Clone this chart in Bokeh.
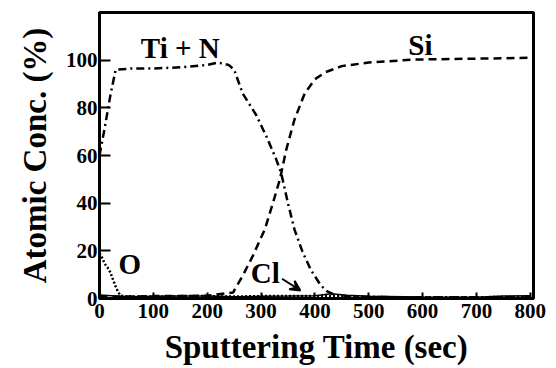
from bokeh.plotting import figure
from bokeh.models import Range1d, Label, Arrow, VeeHead, FixedTicker
from bokeh.embed import file_html
from bokeh.resources import INLINE

# ---- data ----
tin_x = [0, 10, 20, 30, 60, 100, 150, 200, 220, 240, 250, 266, 291, 310, 328, 337, 350, 362, 377, 393, 411, 423, 440, 470, 520, 600, 700, 800]
tin_y = [60, 72, 85, 96, 96.5, 96.5, 97, 98, 99, 98, 96, 86, 77, 68, 58.5, 53, 40, 29, 19.6, 11.8, 5.5, 3, 1.2, 0.8, 0.6, 0.5, 0.5, 0.5]

si_x = [0, 50, 100, 150, 200, 248, 267, 285, 307, 322, 335, 347, 362, 381, 400, 420, 450, 500, 580, 650, 720, 800]
si_y = [0.8, 0.8, 1.0, 1.0, 1.2, 2.5, 10, 18, 29, 40, 50, 62.6, 75, 86, 92, 95, 97.5, 99, 100.2, 100.5, 100.7, 101]

o_x = [0, 5, 10, 15, 20, 25, 30, 35, 40, 50, 100, 150, 200, 250, 300, 350, 400, 450, 500, 600, 700, 800]
o_y = [19, 17, 14.5, 13, 11, 8, 5, 2.5, 1.2, 0.8, 0.8, 1.0, 1.0, 0.8, 1.0, 1.0, 1.0, 0.9, 0.6, 0.5, 0.5, 0.8]

cl_x = [0, 30, 60, 100, 150, 200, 250, 300, 350, 400, 430, 460, 500, 600, 700, 750, 800]
cl_y = [1.5, 1.0, 0.7, 0.9, 1.1, 1.0, 0.7, 0.9, 1.0, 1.2, 2.0, 1.4, 0.9, 0.6, 0.5, 1.0, 1.2]

x_ticks = [0, 100, 200, 300, 400, 500, 600, 700, 800]
y_ticks = [0, 20, 40, 60, 80, 100]

FONT = "Liberation Serif"

p = figure(width=548, height=368, output_backend="svg", toolbar_location=None,
           x_range=Range1d(0, 806), y_range=Range1d(0, 120),
           min_border_left=99, min_border_top=12, min_border_right=15, min_border_bottom=70)
p.background_fill_color = "white"
p.border_fill_color = "white"
p.grid.visible = False
p.outline_line_color = "black"
p.outline_line_width = 3

# curves
p.line(tin_x, tin_y, line_color="black", line_width=2.5, line_dash="8 4 2 4")
p.line(si_x, si_y, line_color="black", line_width=2.5, line_dash="8 5")
p.line(o_x, o_y, line_color="black", line_width=2.5, line_dash="2 2")
p.line(cl_x, cl_y, line_color="black", line_width=1.5)

# axes
for ax in (p.xaxis[0], p.yaxis[0]):
    ax.axis_line_width = 3
    ax.axis_line_color = "black"
    ax.major_tick_line_color = "black"
    ax.major_tick_line_width = 2
    ax.minor_tick_line_color = None
    ax.major_tick_out = 0
    ax.major_label_text_font = FONT
    ax.major_label_text_font_style = "bold"
    ax.major_label_text_font_size = "21px"
    ax.major_label_text_color = "black"
    ax.axis_label_text_font = FONT
    ax.axis_label_text_font_style = "bold"
    ax.axis_label_text_color = "black"

p.xaxis.ticker = FixedTicker(ticks=x_ticks)
p.yaxis.ticker = FixedTicker(ticks=y_ticks)
p.xaxis.major_tick_in = 6
p.yaxis.major_tick_in = 11
p.xaxis.major_label_standoff = 5
p.yaxis.major_label_standoff = 2
p.xaxis.axis_label = "Sputtering Time (sec)"
p.yaxis.axis_label = "Atomic Conc. (%)"
p.xaxis.axis_label_text_font_size = "33px"
p.yaxis.axis_label_text_font_size = "33px"
p.xaxis.axis_label_standoff = 8
p.yaxis.axis_label_standoff = 10

# annotations
def lab(x, y, t):
    p.add_layout(Label(x=x, y=y, text=t, text_font=FONT, text_font_style="bold",
                       text_font_size="29px", text_color="black",
                       text_align="center", text_baseline="middle"))

lab(150, 105, "Ti + N")
lab(596, 106.5, "Si")
lab(56, 14.5, "O")
lab(308, 10.5, "Cl")

p.add_layout(Arrow(end=VeeHead(size=10, line_color="black", fill_color="black", line_width=2),
                   x_start=339, y_start=8.3, x_end=373, y_end=3.4,
                   line_color="black", line_width=2))

open("out.html", "w").write(file_html(p, INLINE))
